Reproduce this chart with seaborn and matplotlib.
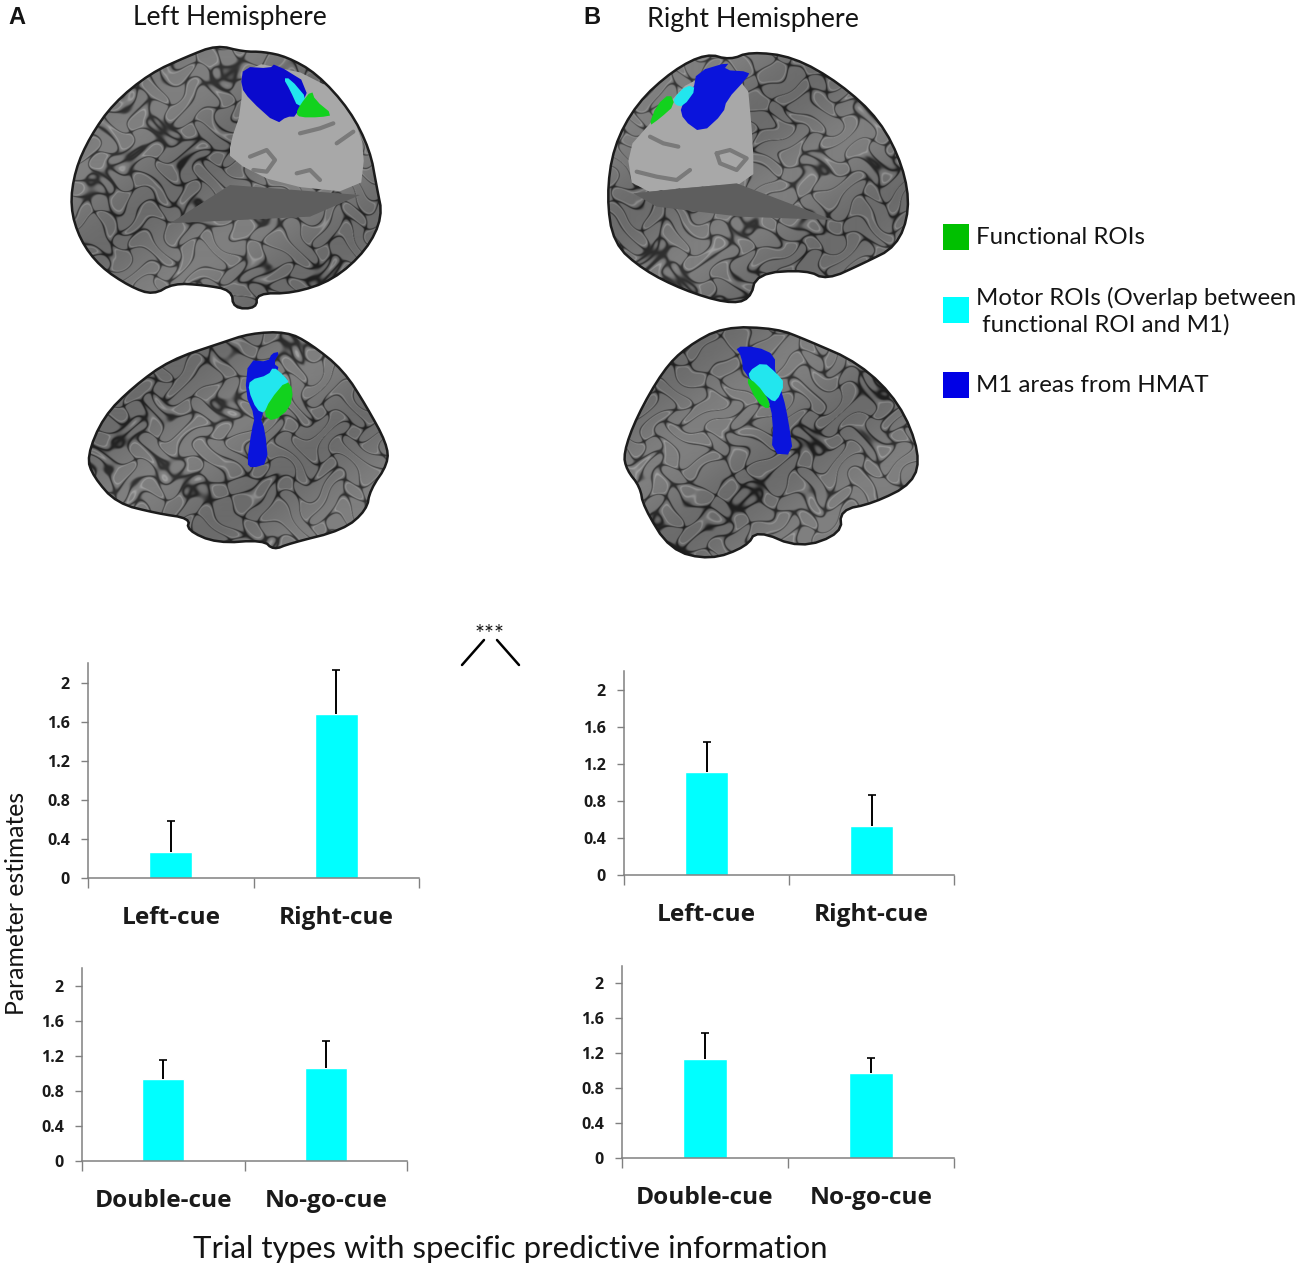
import matplotlib
matplotlib.use('Agg')
import matplotlib.pyplot as plt
from matplotlib.patches import Polygon, Rectangle
import seaborn as sns
import numpy as np

# bar data
left_cue_labels = ['Left-cue', 'Right-cue']
other_cue_labels = ['Double-cue', 'No-go-cue']
lh_top_means = [0.27, 1.68]
lh_top_errs = [0.31, 0.45]
rh_top_means = [1.11, 0.53]
rh_top_errs = [0.32, 0.33]
lh_bottom_means = [0.93, 1.06]
lh_bottom_errs = [0.22, 0.31]
rh_bottom_means = [1.13, 0.97]
rh_bottom_errs = [0.30, 0.18]
y_ticks = [0, 0.4, 0.8, 1.2, 1.6, 2]
y_tick_labels = ['0', '0.4', '0.8', '1.2', '1.6', '2']
legend_labels = ['Functional ROIs', 'Motor ROIs (Overlap between\n functional ROI and M1)', 'M1 areas from HMAT']
legend_colors = ['#00C000', '#00FFFF', '#0000E6']

W, H = 1300, 1269
sns.set_theme(style='white')
plt.rcParams['font.family'] = ['Lato', 'DejaVu Sans']

fig = plt.figure(figsize=(W / 100, H / 100), dpi=100, facecolor='white')

# full figure axes in pixel coords for the brain sketches and the loose text
bg = fig.add_axes([0, 0, 1, 1], zorder=0)
bg.set_xlim(0, W)
bg.set_ylim(H, 0)
bg.axis('off')


def smooth(pts, n=3):
    p = np.array(pts, float)
    for _ in range(n):
        q = np.roll(p, -1, axis=0)
        p = np.column_stack([0.75 * p + 0.25 * q, 0.25 * p + 0.75 * q]).reshape(-1, 2)
    return p


def zoomed(pts, ox, oy):
    # outlines were traced on 3x crops
    return np.array(pts, float) / 3 + [ox, oy]


def folds(x0, x1, y0, y1, seed):
    # fake gyri: warped sine field, dark where it crosses zero
    x, y = np.meshgrid(np.arange(x0, x1, 0.5), np.arange(y0, y1, 0.5))
    x, y = x * 1.55, y * 1.55
    u = x + 7 * np.sin(y / 10 + seed) + 4 * np.sin(y / 23 + 2 * seed)
    v = y + 7 * np.sin(x / 12 + seed) + 4 * np.sin(x / 19 - seed)
    phi = np.sin(u / 8.5 + 2.4 * np.sin(v / 14 + seed)) + np.sin(v / 7.5 + 2.4 * np.sin(u / 16))
    val = 0.46 - 0.3 * np.exp(-(phi / 0.16) ** 2) + 0.13 * np.exp(-((phi - 0.55) / 0.1) ** 2)
    return val + 0.04 * np.sin(x / 60 + y / 45)


def brain(outline, seed, cut=None, flat=None, rois=(), cut_lines=()):
    xs, ys = outline[:, 0], outline[:, 1]
    ext = (xs.min() - 2, xs.max() + 2, ys.min() - 2, ys.max() + 2)
    shape = Polygon(smooth(outline, 2), closed=True, fc='none', ec='#1c1c1c', lw=1.8, zorder=3)
    bg.add_patch(shape)
    im = bg.imshow(folds(*ext, seed), extent=(ext[0], ext[1], ext[3], ext[2]), cmap='gray',
                   vmin=0, vmax=1, aspect='auto', interpolation='bilinear', zorder=1)
    im.set_clip_path(shape)
    if cut is not None:
        bg.add_patch(Polygon(smooth(cut, 1), fc='#a8a8a8', ec='none', zorder=2))
    if flat is not None:
        bg.add_patch(Polygon(flat, fc='#5e5e5e', ec='none', zorder=2.5))
    for pts in cut_lines:
        bg.plot(pts[:, 0], pts[:, 1], color='#7a7a7a', lw=3, solid_capstyle='round', zorder=2.2)
    for pts, col in rois:
        bg.add_patch(Polygon(smooth(pts, 1), fc=col, ec='none', zorder=4))
    bg.set_xlim(0, W)
    bg.set_ylim(H, 0)


blue, dblue, cyan, green = '#0A14DC', '#0A0ACD', '#22E6EE', '#12D21E'

# left hemisphere, back view
brain(zoomed([(730, 155), (650, 135), (560, 170), (450, 220), (340, 310), (270, 410), (225, 510), (210, 620),
              (240, 720), (300, 800), (390, 860), (460, 885), (520, 850), (610, 855), (695, 870), (700, 925),
              (770, 925), (770, 880), (880, 880), (1000, 840), (1100, 750), (1148, 650), (1130, 560), (1110, 450),
              (1050, 330), (950, 220), (860, 170), (790, 155)], 0, 0), 1.3,
      cut=zoomed([(725, 180), (960, 230), (1060, 350), (1095, 450), (1080, 580), (840, 555), (690, 480), (690, 430),
                  (725, 330)], 0, 0),
      flat=zoomed([(690, 555), (1080, 585), (930, 650), (510, 670)], 0, 0),
      cut_lines=[zoomed([(750, 470), (800, 450), (825, 480), (800, 515), (760, 510)], 0, 0),
                 zoomed([(900, 400), (960, 385), (1000, 370)], 0, 0),
                 zoomed([(890, 520), (930, 510), (960, 540)], 0, 0),
                 zoomed([(1010, 430), (1060, 395)], 0, 0)],
      rois=[(zoomed([(730, 200), (810, 205), (825, 190), (930, 255), (890, 350), (860, 350), (830, 372), (750, 300),
                     (722, 260)], 0, 0), dblue),
            (zoomed([(850, 235), (870, 235), (925, 300), (895, 325), (870, 270)], 0, 0), cyan),
            (zoomed([(935, 270), (945, 300), (1000, 345), (960, 352), (900, 352), (888, 340), (900, 315)], 0, 0), green)])

# left hemisphere, side view
brain(zoomed([(80, 410), (130, 290), (220, 200), (330, 120), (480, 70), (570, 40), (680, 35), (750, 70), (850, 150),
              (920, 260), (980, 370), (985, 430), (930, 510), (920, 570), (850, 630), (690, 670), (640, 690),
              (610, 660), (470, 670), (380, 630), (390, 595), (290, 580), (170, 550), (100, 470)], 60, 320), 2.1,
      rois=[(zoomed([(565, 120), (625, 125), (635, 100), (660, 95), (640, 130), (660, 145), (600, 290), (615, 330),
                     (625, 430), (575, 445), (560, 430), (575, 330), (585, 290), (555, 220)], 60, 320), blue),
            (zoomed([(640, 140), (670, 165), (690, 190), (615, 280), (590, 270), (565, 210), (570, 180), (625, 165)],
                    60, 320), cyan),
            (zoomed([(680, 180), (700, 210), (690, 265), (640, 305), (610, 285), (630, 240)], 60, 320), green)])

# right hemisphere, back view
brain(zoomed([(80, 500), (100, 350), (170, 220), (280, 120), (380, 70), (450, 90), (510, 65), (640, 80), (780, 160),
              (900, 270), (970, 410), (990, 540), (950, 650), (850, 700), (740, 750), (680, 720), (530, 730),
              (510, 810), (440, 820), (310, 780), (190, 720), (100, 640)], 580, 30), 3.4,
      cut=zoomed([(160, 490), (140, 360), (210, 280), (350, 130), (500, 130), (520, 350), (520, 460), (350, 470)],
                 580, 30),
      flat=zoomed([(160, 490), (470, 460), (760, 570), (480, 560), (230, 530)], 580, 30),
      cut_lines=[zoomed([(410, 370), (450, 360), (500, 385), (470, 420), (420, 400), (410, 370)], 580, 30),
                 zoomed([(210, 320), (250, 340), (295, 350)], 580, 30),
                 zoomed([(170, 425), (230, 440), (290, 450), (330, 420)], 580, 30)],
      rois=[(zoomed([(350, 125), (450, 95), (430, 120), (510, 125), (500, 145), (440, 210), (430, 250), (365, 310),
                     (310, 270), (300, 230), (340, 180)], 580, 30), blue),
            (zoomed([(320, 165), (350, 175), (310, 230), (285, 225), (280, 205)], 580, 30), cyan),
            (zoomed([(270, 190), (285, 225), (240, 265), (205, 290), (230, 225)], 580, 30), green)])

# right hemisphere, side view
brain(zoomed([(70, 400), (110, 290), (190, 150), (260, 80), (370, 20), (530, 25), (620, 60), (780, 130), (900, 250),
              (960, 400), (940, 490), (820, 550), (720, 570), (725, 640), (600, 685), (470, 630), (440, 680),
              (330, 720), (210, 690), (130, 560), (120, 500), (80, 450)], 600, 320), 4.6,
      rois=[(zoomed([(405, 80), (470, 80), (525, 105), (525, 160), (550, 230), (565, 300), (580, 405), (515, 400),
                     (520, 300), (500, 220), (430, 160), (425, 110)], 600, 320), blue),
            (zoomed([(490, 125), (530, 160), (555, 190), (530, 245), (510, 240), (450, 180), (445, 155)], 600, 320),
             cyan),
            (zoomed([(435, 170), (470, 190), (510, 245), (505, 270), (470, 245)], 600, 320), green)])


def bar_panel(left, top, right, base, labels, means, errs, width):
    ax = fig.add_axes([left / W, 1 - base / H, (right - left) / W, (base - top) / H], zorder=2)
    ax.patch.set_alpha(0)
    sns.barplot(x=labels, y=means, color='#00FFFF', saturation=1, width=width, ax=ax)
    _, caps, _ = ax.errorbar(range(2), means, yerr=[[0, 0], errs], fmt='none', ecolor='black',
                             elinewidth=1.4, capsize=3, capthick=1.2)
    caps[0].set_visible(False)
    ax.set_xlim(-0.5, 1.5)
    ax.set_ylim(0, 2.2)
    ax.set_yticks(y_ticks)
    ax.set_yticklabels(y_tick_labels, fontsize=11.5, fontweight='bold', color='#1a1a1a', family=['Open Sans'])
    ax.set_xticks([-0.5, 0.5, 1.5], minor=True)
    ax.tick_params(axis='x', which='major', length=0, pad=20)
    ax.tick_params(axis='x', which='minor', bottom=True, length=7.5, width=1, color='#808080')
    ax.tick_params(axis='y', left=True, length=5, width=1, color='#808080', pad=8)
    for lab in ax.get_xticklabels():
        lab.set_fontweight('bold')
        lab.set_fontsize(17.6)
        lab.set_family(['Open Sans'])
        lab.set_color('#1a1a1a')
    sns.despine(ax=ax)
    for side in ['left', 'bottom']:
        ax.spines[side].set_color('#808080')
        ax.spines[side].set_linewidth(1.1)
    ax.set_xlabel('')
    ax.set_ylabel('')
    return ax


bar_panel(88, 663, 419, 878, left_cue_labels, lh_top_means, lh_top_errs, 0.26)
bar_panel(624, 671, 954, 875, left_cue_labels, rh_top_means, rh_top_errs, 0.26)
bar_panel(82, 968, 407, 1161, other_cue_labels, lh_bottom_means, lh_bottom_errs, 0.26)
bar_panel(622, 966, 954, 1158, other_cue_labels, rh_bottom_means, rh_bottom_errs, 0.26)

# panel letters and headers
txt = '#141414'
bg.text(8, 17, 'A', fontsize=17, fontweight='bold', color=txt, va='center', family=['Liberation Sans'])
bg.text(583, 17, 'B', fontsize=17, fontweight='bold', color=txt, va='center', family=['Liberation Sans'])
bg.text(230, 18, 'Left Hemisphere', fontsize=19, color=txt, ha='center', va='center')
bg.text(753, 19, 'Right Hemisphere', fontsize=19.4, color=txt, ha='center', va='center')

# legend, laid out by hand like the original
for y, col in zip([237, 310, 385], legend_colors):
    bg.add_patch(Rectangle((943, y - 13), 26, 26, fc=col, ec='none'))
bg.text(976, 238, legend_labels[0], fontsize=17.3, color=txt, va='center')
bg.text(976, 311, legend_labels[1], fontsize=17.3, color=txt, va='center', linespacing=1.3)
bg.text(976, 385, legend_labels[2], fontsize=17.3, color=txt, va='center')

# axis captions and the significance mark
bg.text(17, 903, 'Parameter estimates', fontsize=17.8, color=txt, rotation=90, ha='center', va='center')
bg.text(510, 1249, 'Trial types with specific predictive information', fontsize=22.4, color=txt, ha='center', va='center')
bg.text(490, 634, '***', fontsize=17, color=txt, ha='center', va='center')
bg.plot([462, 484], [665, 640], color='black', lw=1.8)
bg.plot([497, 519], [640, 665], color='black', lw=1.8)
bg.set_xlim(0, W)
bg.set_ylim(H, 0)

fig.savefig('out.png', dpi=100)
